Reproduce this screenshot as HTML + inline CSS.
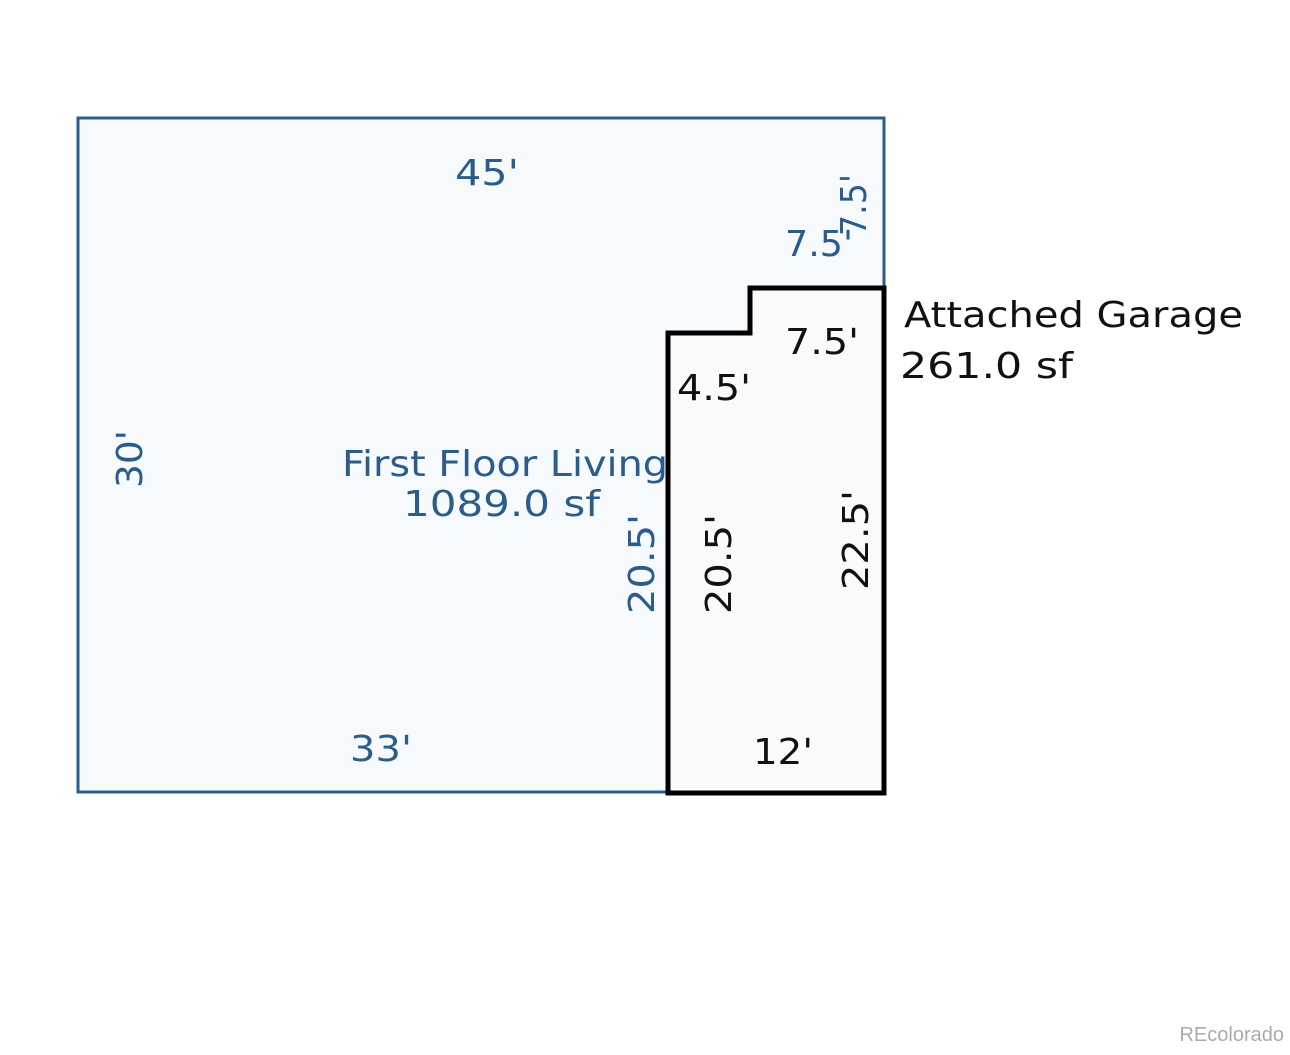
<!DOCTYPE html>
<html><head><style>body{margin:0;background:#fff}</style></head><body>
<svg width="1290" height="1050" xmlns="http://www.w3.org/2000/svg" font-family="DejaVu Sans, sans-serif" font-size="36">
<rect x="78" y="118" width="806" height="674" fill="#f7fafd" stroke="#2a5c8c" stroke-width="3"/>
<polygon points="668,333 750,333 750,288 884,288 884,793 668,793" fill="#fbf9f9" stroke="#000" stroke-width="5"/>
<g fill="#2a5c8c">
<text x="455" y="185" textLength="64" lengthAdjust="spacingAndGlyphs">45'</text>
<text x="785" y="256" textLength="68" lengthAdjust="spacingAndGlyphs">7.5'</text>
<text transform="translate(866,236) rotate(-90)" textLength="62" lengthAdjust="spacingAndGlyphs">7.5'</text>
<text transform="translate(142,488) rotate(-90)" textLength="58" lengthAdjust="spacingAndGlyphs">30'</text>
<text x="342" y="476" textLength="326" lengthAdjust="spacingAndGlyphs">First Floor Living</text>
<text x="403" y="516" textLength="197" lengthAdjust="spacingAndGlyphs">1089.0 sf</text>
<text transform="translate(654,614) rotate(-90)" textLength="100" lengthAdjust="spacingAndGlyphs">20.5'</text>
<text x="350" y="761" textLength="62" lengthAdjust="spacingAndGlyphs">33'</text>
</g>
<g fill="#111">
<text x="785" y="354" textLength="74" lengthAdjust="spacingAndGlyphs">7.5'</text>
<text x="677" y="400" textLength="74" lengthAdjust="spacingAndGlyphs">4.5'</text>
<text transform="translate(731,614) rotate(-90)" textLength="100" lengthAdjust="spacingAndGlyphs">20.5'</text>
<text transform="translate(868,590) rotate(-90)" textLength="100" lengthAdjust="spacingAndGlyphs">22.5'</text>
<text x="753" y="764" textLength="60" lengthAdjust="spacingAndGlyphs">12'</text>
<text x="904" y="327" textLength="339" lengthAdjust="spacingAndGlyphs">Attached Garage</text>
<text x="900" y="378" textLength="173" lengthAdjust="spacingAndGlyphs">261.0 sf</text>
</g>
<text x="1284" y="1041" text-anchor="end" font-family="Liberation Sans, sans-serif" font-size="20" fill="#aaa">REcolorado</text>
</svg>
</body></html>
